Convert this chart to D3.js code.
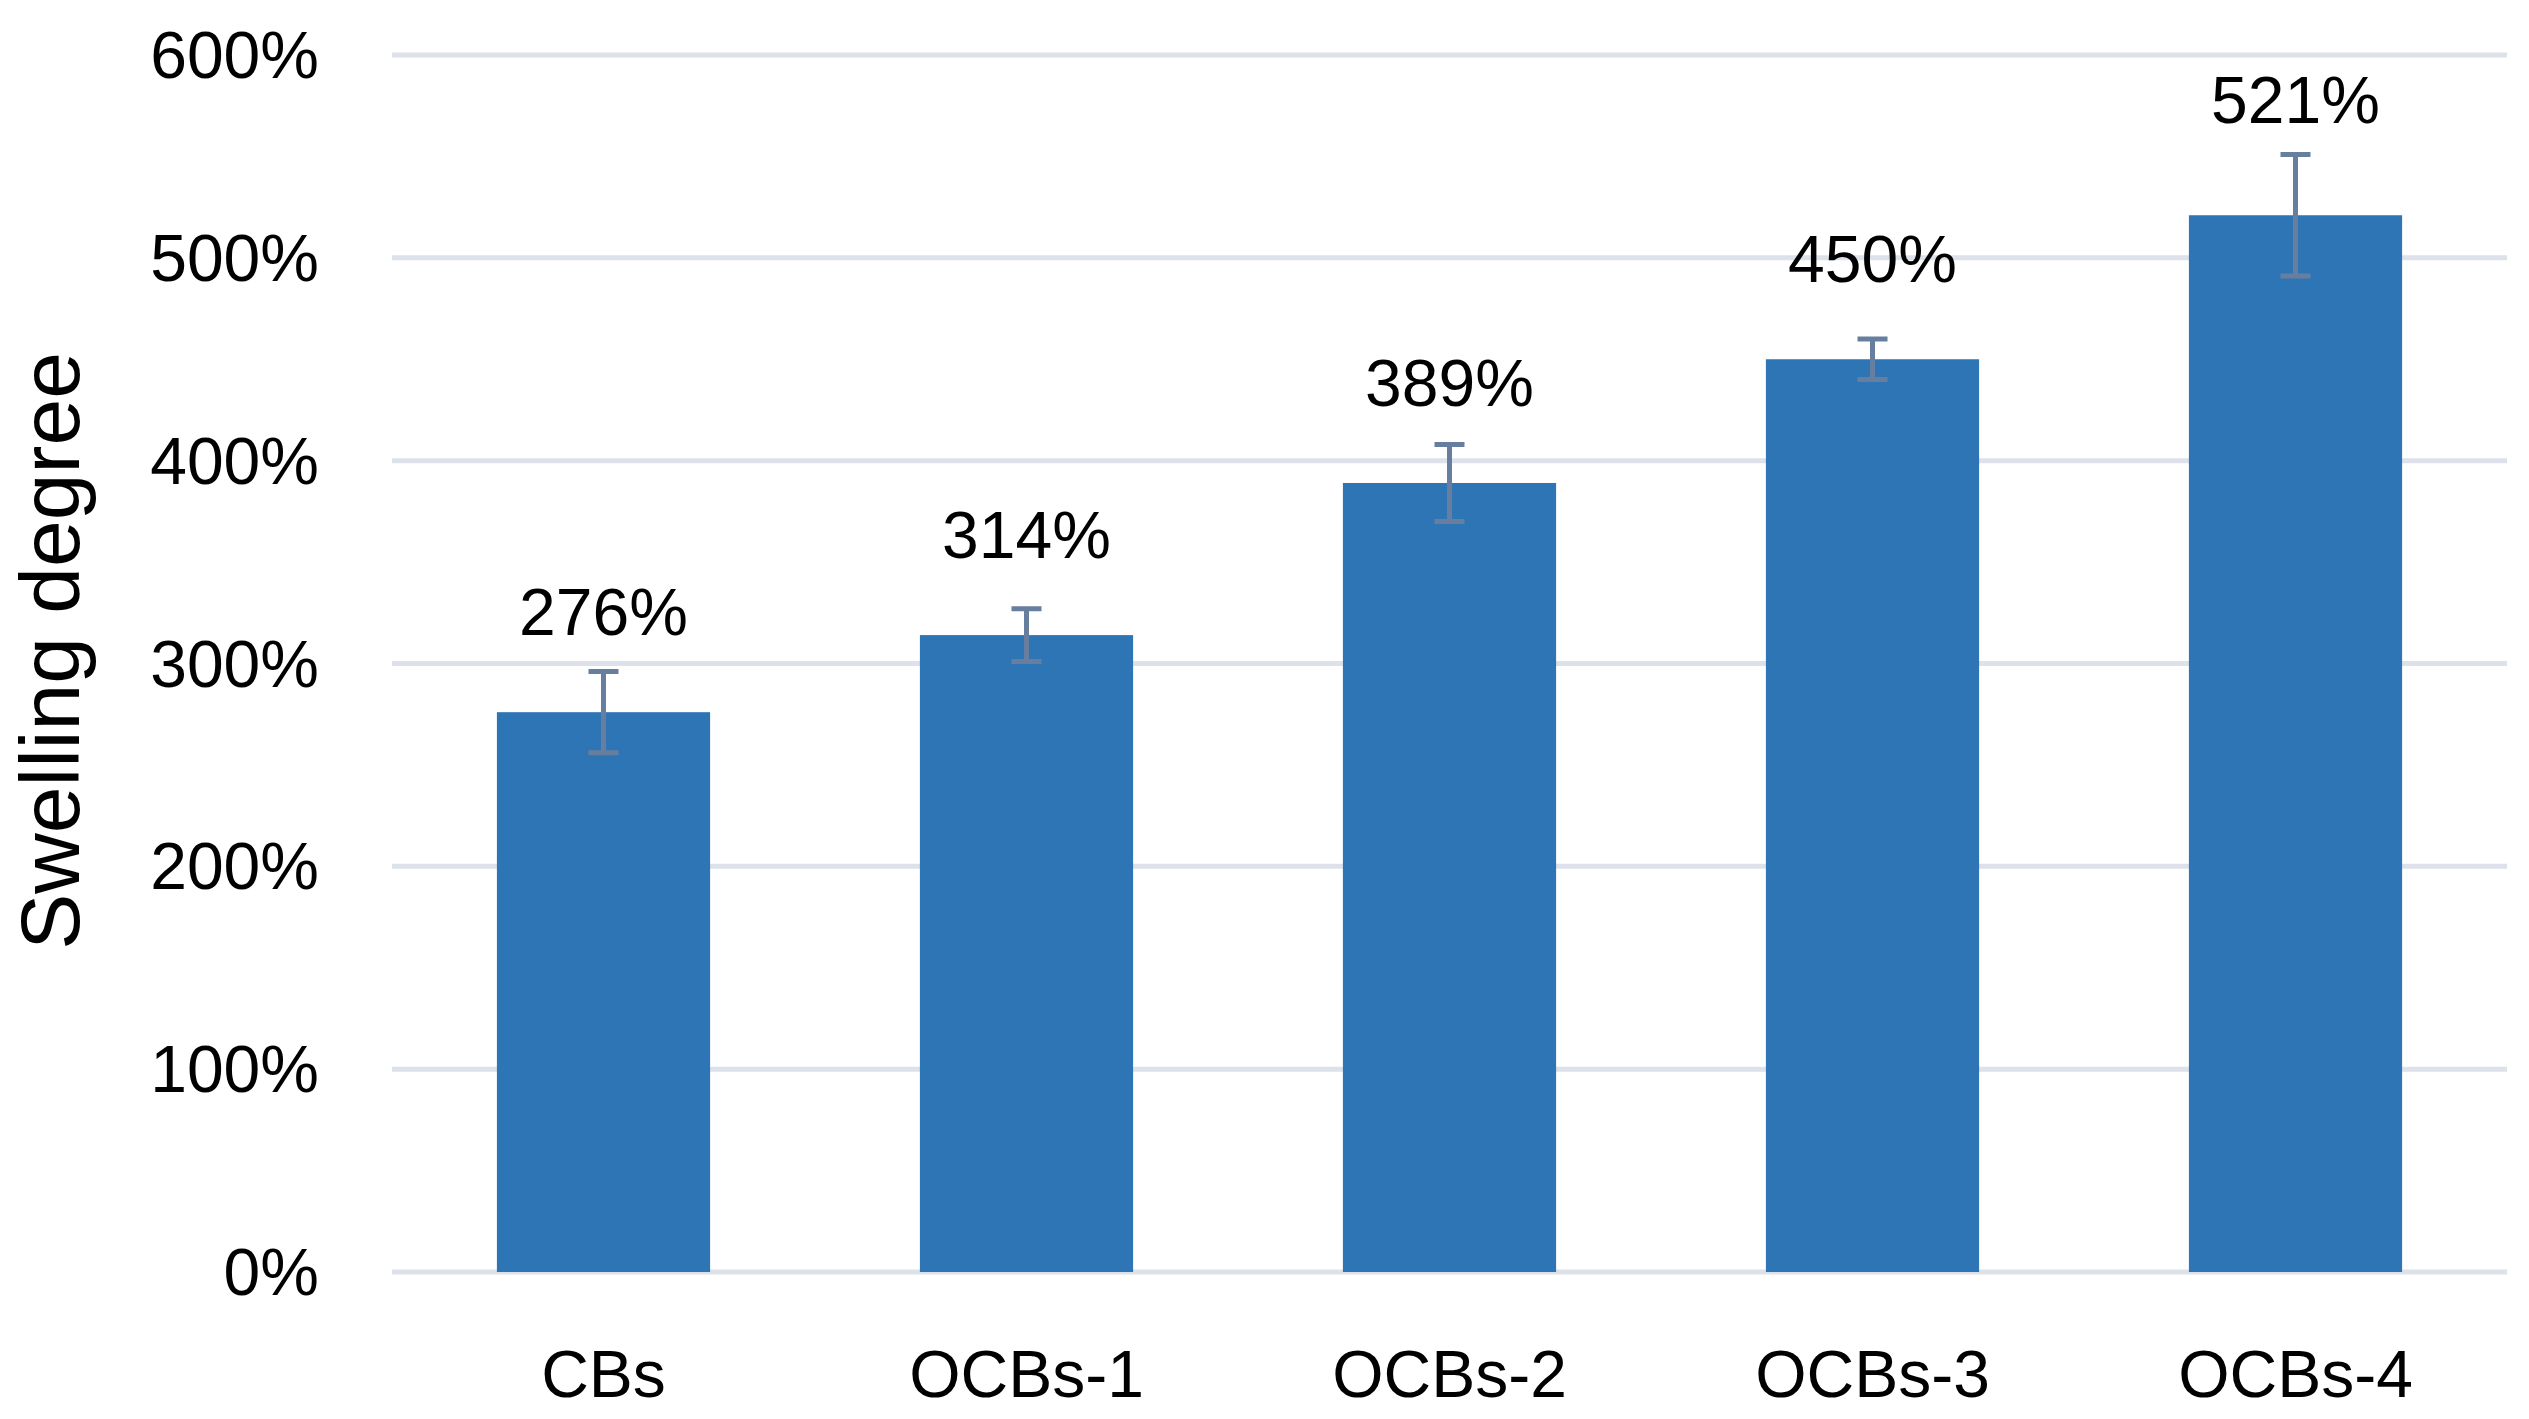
<!DOCTYPE html>
<html lang="en">
<head>
    <meta charset="UTF-8">
    <title>Swelling degree</title>
    <script src="https://d3js.org/d3.v7.min.js"></script>
    <style>
        body {
            margin: 0;
            background-color: white;
        }
        .tick-label, .data-label, .cat-label {
            font-family: "Liberation Sans", Arial, sans-serif;
            font-size: 66px;
            fill: black;
        }
        .axis-title {
            font-family: "Liberation Sans", Arial, sans-serif;
            font-size: 84px;
            fill: black;
        }
        .grid {
            stroke: #dde1e9;
            stroke-width: 5;
        }
        .bar {
            fill: #2e75b6;
        }
        .err {
            stroke: #687e9e;
            stroke-width: 5;
            fill: none;
        }
    </style>
</head>
<body>
    <script>
        const categories = ["CBs", "OCBs-1", "OCBs-2", "OCBs-3", "OCBs-4"];
        const values = [276, 314, 389, 450, 521];     // swelling degree, %
        const errors = [20, 13, 19, 10, 30];          // +/- error, %
        const yTicks = [0, 100, 200, 300, 400, 500, 600];

        const width = 2529;
        const height = 1419;
        const plotLeft = 392;
        const plotRight = 2507;
        const plotTop = 55;
        const plotBottom = 1272;

        const svg = d3.select("body")
            .append("svg")
            .attr("width", width)
            .attr("height", height)
            .attr("style", "background-color: white");

        const x = d3.scaleBand()
            .domain(categories)
            .range([plotLeft, plotRight])
            .paddingInner(0.496)
            .paddingOuter(0.248);

        const y = d3.scaleLinear()
            .domain([0, 600])
            .range([plotBottom, plotTop]);

        // gridlines
        svg.selectAll(".grid")
            .data(yTicks)
            .enter().append("line")
            .attr("class", "grid")
            .attr("x1", plotLeft)
            .attr("x2", plotRight)
            .attr("y1", d => y(d))
            .attr("y2", d => y(d));

        // y tick labels
        svg.selectAll(".tick-label")
            .data(yTicks)
            .enter().append("text")
            .attr("class", "tick-label")
            .attr("x", plotLeft - 73)
            .attr("y", d => y(d))
            .attr("dy", "0.35em")
            .attr("text-anchor", "end")
            .text(d => d + "%");

        // bars
        svg.selectAll(".bar")
            .data(values)
            .enter().append("rect")
            .attr("class", "bar")
            .attr("x", (d, i) => x(categories[i]))
            .attr("y", d => y(d))
            .attr("width", x.bandwidth())
            .attr("height", d => y(0) - y(d));

        // error bars
        const capHalf = 15;
        svg.selectAll(".err")
            .data(values)
            .enter().append("path")
            .attr("class", "err")
            .attr("d", (d, i) => {
                const cx = x(categories[i]) + x.bandwidth() / 2;
                const top = y(d + errors[i]);
                const bot = y(d - errors[i]);
                return `M${cx - capHalf},${top}H${cx + capHalf}M${cx},${top}V${bot}M${cx - capHalf},${bot}H${cx + capHalf}`;
            });

        // data labels, kept clear of the error bar cap
        svg.selectAll(".data-label")
            .data(values)
            .enter().append("text")
            .attr("class", "data-label")
            .attr("x", (d, i) => x(categories[i]) + x.bandwidth() / 2)
            .attr("y", (d, i) => Math.min(y(d) - 77, y(d + errors[i]) - 31))
            .attr("text-anchor", "middle")
            .text(d => d + "%");

        // category labels
        svg.selectAll(".cat-label")
            .data(categories)
            .enter().append("text")
            .attr("class", "cat-label")
            .attr("x", d => x(d) + x.bandwidth() / 2)
            .attr("y", 1397)
            .attr("text-anchor", "middle")
            .text(d => d);

        // y axis title
        svg.append("text")
            .attr("class", "axis-title")
            .attr("transform", `translate(79,${651}) rotate(-90)`)
            .attr("text-anchor", "middle")
            .text("Swelling degree");
    </script>
</body>
</html>
